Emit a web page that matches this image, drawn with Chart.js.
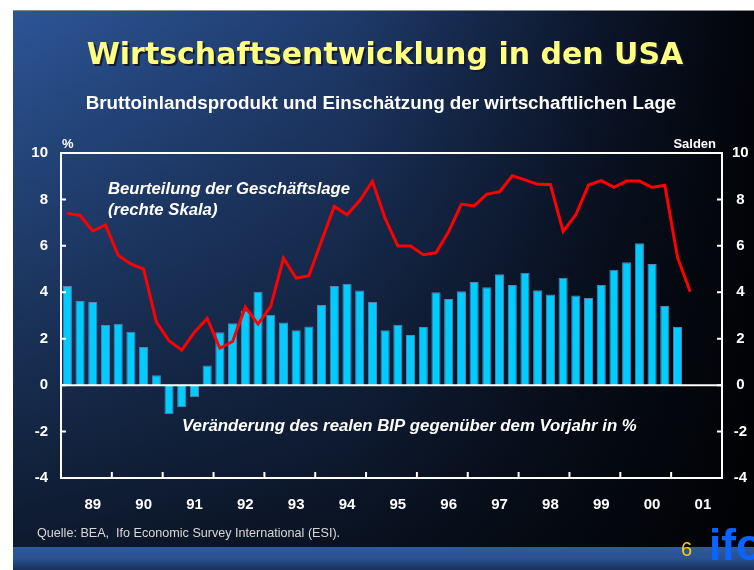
<!DOCTYPE html>
<html>
<head>
<meta charset="utf-8">
<script src="https://cdn.jsdelivr.net/npm/chart.js@4/dist/chart.umd.min.js"></script>
<style>
  html, body { margin: 0; padding: 0; background: #fff; }
  #wrap { width: 754px; height: 570px; }
</style>
</head>
<body>
<div id="wrap"><canvas id="chart" width="754" height="570"></canvas></div>
<script>
// quarters 89 Q1 .. 01 Q4
const yearLabels = ['89', '90', '91', '92', '93', '94', '95', '96', '97', '98', '99', '00', '01'];
const quarters = [];
yearLabels.forEach(y => { for (let q = 1; q <= 4; q++) quarters.push(y + ' Q' + q); });

// real GDP, change vs previous year in % (left scale)
const gdp = [
  4.27, 3.62, 3.58, 2.59,
  2.64, 2.30, 1.64, 0.43,
  -1.25, -0.95, -0.52, 0.85,
  2.28, 2.67, 3.20, 4.02,
  3.03, 2.70, 2.36, 2.53,
  3.45, 4.27, 4.37, 4.08,
  3.58, 2.36, 2.60, 2.16,
  2.50, 4.00, 3.71, 4.05,
  4.44, 4.22, 4.78, 4.31,
  4.84, 4.09, 3.91, 4.63,
  3.86, 3.75, 4.31, 4.97,
  5.29, 6.11, 5.22, 3.41,
  2.51
];

// assessment of the business situation, balances (right scale)
const geschaeftslage = [
  7.40, 7.31, 6.64, 6.90, 5.59, 5.22, 5.00, 2.73, 1.91, 1.51,
  2.28, 2.87, 1.59, 1.88, 3.36, 2.63, 3.39, 5.47, 4.61, 4.71,
  6.22, 7.70, 7.34, 7.95, 8.78, 7.18, 5.99, 5.99, 5.62, 5.70,
  6.62, 7.80, 7.72, 8.23, 8.33, 9.02, 8.84, 8.65, 8.64, 6.62,
  7.34, 8.62, 8.81, 8.52, 8.79, 8.79, 8.52, 8.61, 5.50, 4.02
];

const axisTicks = [-4, -2, 0, 2, 4, 6, 8, 10];

const FONT = '"Liberation Sans", Arial, sans-serif';

const slidePlugin = {
  id: 'slide',
  beforeDraw(chart) {
    const ctx = chart.ctx;
    const W = chart.width, H = chart.height;
    ctx.save();
    ctx.fillStyle = '#ffffff';
    ctx.fillRect(0, 0, W, H);
    // slide background
    const gx = ctx.createLinearGradient(13, 0, W, 0);
    gx.addColorStop(0, '#2c5597');
    gx.addColorStop(0.45, '#1f3b6c');
    gx.addColorStop(0.8, '#0b1529');
    gx.addColorStop(1, '#020409');
    ctx.fillStyle = gx;
    ctx.fillRect(13, 11, W - 13, H - 11);
    const gy = ctx.createLinearGradient(0, 11, 0, 547);
    gy.addColorStop(0, 'rgba(0,0,0,0)');
    gy.addColorStop(1, 'rgba(0,0,0,0.7)');
    ctx.fillStyle = gy;
    ctx.fillRect(13, 11, W - 13, 536);
    // bottom band
    const gb = ctx.createLinearGradient(0, 547, 0, H);
    gb.addColorStop(0, '#2e5a9e');
    gb.addColorStop(0.5, '#2a5192');
    gb.addColorStop(1, '#18305c');
    ctx.fillStyle = gb;
    ctx.fillRect(13, 547, W - 13, H - 547);
    ctx.fillStyle = '#8a8a8a';
    ctx.fillRect(13, 10, W - 13, 1);
    ctx.restore();
  },
  afterDatasetsDraw(chart) {
    const ctx = chart.ctx;
    const a = chart.chartArea;
    const y = chart.scales.y;
    const x = chart.scales.x;
    ctx.save();
    ctx.strokeStyle = '#ffffff';
    ctx.lineWidth = 2;
    ctx.strokeRect(a.left, a.top, a.right - a.left, a.bottom - a.top);
    const y0 = y.getPixelForValue(0);
    ctx.beginPath();
    ctx.moveTo(a.left, y0);
    ctx.lineTo(a.right, y0);
    ctx.stroke();
    ctx.beginPath();
    axisTicks.forEach(v => {
      const py = y.getPixelForValue(v);
      ctx.moveTo(a.left, py); ctx.lineTo(a.left + 5, py);
      ctx.moveTo(a.right, py); ctx.lineTo(a.right - 5, py);
    });
    const slot = (x.getPixelForValue(1) - x.getPixelForValue(0));
    for (let i = 4; i < quarters.length; i += 4) {
      const px = x.getPixelForValue(i) - slot / 2;
      ctx.moveTo(px, a.bottom); ctx.lineTo(px, a.bottom - 6);
    }
    ctx.stroke();
    ctx.restore();
  },
  afterDraw(chart) {
    const ctx = chart.ctx;
    ctx.save();
    // title
    ctx.textAlign = 'center';
    ctx.textBaseline = 'alphabetic';
    ctx.font = 'bold 30px "DejaVu Sans", sans-serif';
    ctx.fillStyle = '#151a30';
    ctx.fillText('Wirtschaftsentwicklung in den USA', 387, 66);
    ctx.fillStyle = '#ffff80';
    ctx.fillText('Wirtschaftsentwicklung in den USA', 385, 64);
    ctx.font = 'bold 18.8px ' + FONT;
    ctx.fillStyle = '#ffffff';
    ctx.fillText('Bruttoinlandsprodukt und Einschätzung der wirtschaftlichen Lage', 381, 109);
    // axis units
    ctx.font = 'bold 13px ' + FONT;
    ctx.textAlign = 'left';
    ctx.fillText('%', 62, 148);
    ctx.textAlign = 'right';
    ctx.fillText('Salden', 716, 148);
    // annotations
    ctx.textAlign = 'left';
    ctx.font = 'italic bold 16.7px ' + FONT;
    ctx.fillText('Beurteilung der Geschäftslage', 108, 194);
    ctx.fillText('(rechte Skala)', 108, 215);
    ctx.font = 'italic bold 16.8px ' + FONT;
    ctx.fillText('Veränderung des realen BIP gegenüber dem Vorjahr in %', 182, 431);
    // source
    ctx.font = '12.6px ' + FONT;
    ctx.fillStyle = '#d8d8d8';
    ctx.fillText('Quelle: BEA,  Ifo Economic Survey International (ESI).', 37, 537);
    // page number and logo
    ctx.font = '20px ' + FONT;
    ctx.fillStyle = '#ffcc00';
    ctx.fillText('6', 681, 556);
    ctx.font = 'bold 44px ' + FONT;
    ctx.fillStyle = '#0a64ff';
    ctx.fillText('ifo', 709, 560);
    ctx.restore();
  }
};

new Chart(document.getElementById('chart'), {
  type: 'bar',
  data: {
    labels: quarters,
    datasets: [
      {
        type: 'line',
        label: 'Beurteilung der Geschäftslage',
        data: geschaeftslage,
        yAxisID: 'y2',
        borderColor: '#ff0000',
        borderWidth: 3,
        pointRadius: 0,
        tension: 0,
        order: 0
      },
      {
        label: 'Veränderung des realen BIP',
        data: gdp,
        yAxisID: 'y',
        backgroundColor: '#00ccff',
        borderColor: '#5f7fb0',
        borderWidth: 1,
        barPercentage: 0.72,
        categoryPercentage: 1,
        order: 1
      }
    ]
  },
  options: {
    responsive: false,
    animation: false,
    layout: { padding: { left: 13, right: 0, top: 153, bottom: 0 } },
    plugins: {
      legend: { display: false },
      tooltip: { enabled: false }
    },
    scales: {
      x: {
        offset: true,
        grid: { display: false },
        border: { display: false },
        afterFit(scale) { scale.height = 92; },
        ticks: {
          autoSkip: false,
          maxRotation: 0,
          minRotation: 0,
          padding: 10,
          color: '#ffffff',
          font: { family: FONT, size: 15, weight: 'bold' },
          callback: (v, i) => (i % 4 === 2 ? yearLabels[Math.floor(i / 4)] : '')
        }
      },
      y: {
        position: 'left',
        min: -4,
        max: 10,
        grid: { display: false, drawTicks: false },
        border: { display: false },
        afterFit(scale) { scale.width = 48; },
        ticks: {
          stepSize: 2,
          padding: 13,
          color: '#ffffff',
          font: { family: FONT, size: 15, weight: 'bold' }
        }
      },
      y2: {
        position: 'right',
        min: -4,
        max: 10,
        grid: { display: false, drawTicks: false },
        border: { display: false },
        afterFit(scale) { scale.width = 32; },
        ticks: {
          stepSize: 2,
          padding: 10,
          crossAlign: 'center',
          color: '#ffffff',
          font: { family: FONT, size: 15, weight: 'bold' }
        }
      }
    }
  },
  plugins: [slidePlugin]
});
</script>
</body>
</html>
